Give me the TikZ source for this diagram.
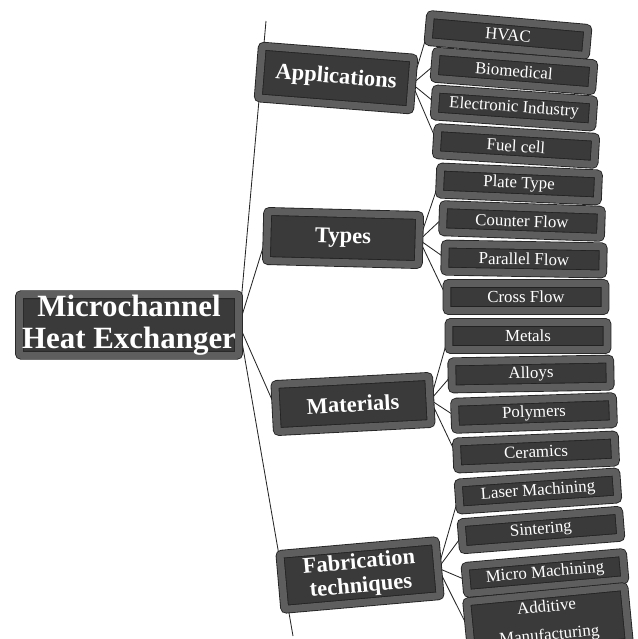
\documentclass[tikz,border=0pt]{standalone}
\usepackage{fontspec}
\setmainfont{Liberation Serif}
\usetikzlibrary{backgrounds}
\definecolor{framegray}{HTML}{5E5E5E}
\definecolor{panelgray}{HTML}{3A3A3A}
\definecolor{edgegray}{HTML}{222222}

\begin{document}
\begin{tikzpicture}[x=0.025cm, y=-0.025cm, every node/.style={text=white, align=center}]
\tikzset{box/.style={draw=edgegray, line width=0.6pt, double=framegray, double distance=5pt, fill=panelgray, rounded corners=1.5pt, inner sep=0pt}}
\tikzset{cat/.style={box, minimum width=3.8cm, minimum height=1.28cm, font=\bfseries\fontsize{16}{17}\selectfont}}
\tikzset{leaf/.style={box, minimum width=3.95cm, minimum height=0.68cm, font=\fontsize{12}{20}\selectfont}}
\tikzset{link/.style={draw=black!85, line width=0.6pt}}
\useasboundingbox (0,0) rectangle (638,639);
\clip (0,0) rectangle (638,639);
% centre and branches
\node[box, minimum width=5.48cm, minimum height=1.45cm, font=\bfseries\fontsize{22}{23}\selectfont] (main) at (129,325) {Microchannel\\Heat Exchanger};
\node[cat, rotate=-4.5, minimum height=1.3cm] (app) at (336,78) {Applications};
\node[cat, rotate=-1.5, minimum height=1.23cm] (typ) at (343,238) {Types};
\node[cat, rotate=3, minimum width=3.85cm, minimum height=1.18cm] (mat) at (353,404) {Materials};
\node[cat, rotate=5, minimum width=3.9cm, minimum height=1.38cm] (fab) at (360,575) {Fabrication\\techniques};
% leaves
\node[leaf, rotate=-5] (hvac) at (508,35) {HVAC};
\node[leaf, rotate=-4.5] (bio) at (514,71) {Biomedical};
\node[leaf, rotate=-4] (elec) at (514,108) {Electronic Industry};
\node[leaf, rotate=-3.5] (fuel) at (516,146) {Fuel cell};
\node[leaf, rotate=-2.5] (plate) at (519,184) {Plate Type};
\node[leaf, rotate=-2] (counter) at (522,221) {Counter Flow};
\node[leaf, rotate=-1] (parallel) at (524,259) {Parallel Flow};
\node[leaf] (cross) at (526,297) {Cross Flow};
\node[leaf] (metal) at (528,336) {Metals};
\node[leaf, rotate=1] (alloy) at (531,374) {Alloys};
\node[leaf, rotate=2] (poly) at (534,413) {Polymers};
\node[leaf, rotate=2.5] (ceram) at (536,452) {Ceramics};
\node[leaf, rotate=4] (laser) at (538,491) {Laser Machining};
\node[leaf, rotate=4.5] (sinter) at (541,530) {Sintering};
\node[leaf, rotate=5] (micro) at (545,573) {Micro Machining};
\node[leaf, rotate=5.5, minimum height=1.4cm] (addit) at (548,622) {Additive\\Manufacturing};
\coordinate (apptop) at (266,21);
\coordinate (fabend) at (293,636);
\begin{scope}[on background layer]
\draw[link] (main.east) -- (apptop);
\draw[link] (main.east) -- (typ.west);
\draw[link] (main.east) -- (mat.west);
\draw[link] (main.east) -- (fabend);
\draw[link] (app.east) -- (hvac.west);
\draw[link] (app.east) -- (bio.west);
\draw[link] (app.east) -- (elec.west);
\draw[link] (app.east) -- (fuel.west);
\draw[link] (typ.east) -- (plate.west);
\draw[link] (typ.east) -- (counter.west);
\draw[link] (typ.east) -- (parallel.west);
\draw[link] (typ.east) -- (cross.west);
\draw[link] (mat.east) -- (metal.west);
\draw[link] (mat.east) -- (alloy.west);
\draw[link] (mat.east) -- (poly.west);
\draw[link] (mat.east) -- (ceram.west);
\draw[link] (fab.east) -- (laser.west);
\draw[link] (fab.east) -- (sinter.west);
\draw[link] (fab.east) -- (micro.west);
\draw[link] (fab.east) -- (addit.west);
\end{scope}
\end{tikzpicture}
\end{document}
